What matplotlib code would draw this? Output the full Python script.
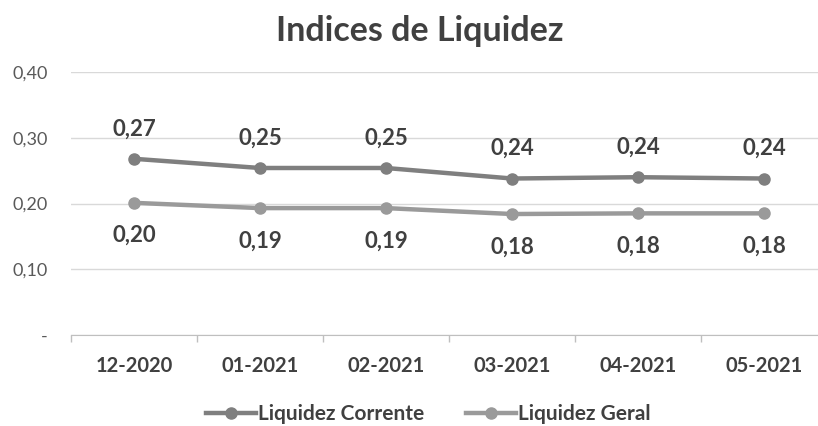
import matplotlib

matplotlib.use("Agg")

import matplotlib.pyplot as plt
import numpy as np

plt.rcParams["font.family"] = ["Lato", "DejaVu Sans"]

months = ["12-2020", "01-2021", "02-2021", "03-2021", "04-2021", "05-2021"]
corrente = [0.268, 0.254, 0.254, 0.238, 0.240, 0.238]
geral = [0.201, 0.193, 0.193, 0.184, 0.185, 0.185]
corrente_labels = ["0,27", "0,25", "0,25", "0,24", "0,24", "0,24"]
geral_labels = ["0,20", "0,19", "0,19", "0,18", "0,18", "0,18"]
yticks = [0.0, 0.1, 0.2, 0.3, 0.4]
ytick_labels = ["-", "0,10", "0,20", "0,30", "0,40"]

C_CORR = "#7f7f7f"
C_GERAL = "#9a9a9a"
INK = "#404040"

fig = plt.figure(figsize=(8.18, 4.26), dpi=100)
ax = fig.add_axes([71 / 818, 1 - 335 / 426, 756 / 818, (335 - 72) / 426])

x = np.arange(len(months))
ax.plot(x, corrente, color=C_CORR, linewidth=3.2, marker="o", markersize=8, label="Liquidez Corrente", zorder=4)
ax.plot(x, geral, color=C_GERAL, linewidth=3.2, marker="o", markersize=8, label="Liquidez Geral", zorder=3)

for xi, v, lab in zip(x, corrente, corrente_labels):
    ax.annotate(lab, (xi, v), xytext=(0, 14), textcoords="offset points", ha="center", va="bottom",
                fontsize=16, fontweight="bold", color=INK)
for xi, v, lab in zip(x, geral, geral_labels):
    ax.annotate(lab, (xi, v), xytext=(0, -16), textcoords="offset points", ha="center", va="top",
                fontsize=16, fontweight="bold", color=INK)

ax.set_xlim(-0.5, len(months) - 0.5)
ax.set_ylim(0, 0.4)
ax.set_yticks(yticks)
ax.set_yticklabels(ytick_labels, fontsize=13, color="#595959")
ax.set_xticks(x)
ax.set_xticklabels(months, fontsize=14.5, fontweight="bold", color=INK)
ax.set_xticks(np.arange(-0.5, len(months), 1), minor=True)
ax.tick_params(axis="x", which="major", length=0, pad=15)
ax.tick_params(axis="x", which="minor", length=5, color="#bfbfbf", width=1)
ax.tick_params(axis="y", length=0, pad=17)
ax.grid(axis="y", color="#d9d9d9", linewidth=1)
ax.set_axisbelow(True)
for s in ["top", "right", "left"]:
    ax.spines[s].set_visible(False)
ax.spines["bottom"].set_color("#bfbfbf")

fig.text(0.513, 0.928, "Indices de Liquidez", ha="center", va="center", fontsize=24.5, fontweight="bold", color=INK)

leg = fig.legend(loc="center", bbox_to_anchor=(0.524, 0.028), ncol=2, frameon=False, fontsize=15,
                 handlelength=2.4, columnspacing=2.0, handletextpad=0.1)
for t in leg.get_texts():
    t.set_fontweight("bold")
    t.set_color(INK)

fig.savefig("out.png", dpi=100, facecolor="white")
